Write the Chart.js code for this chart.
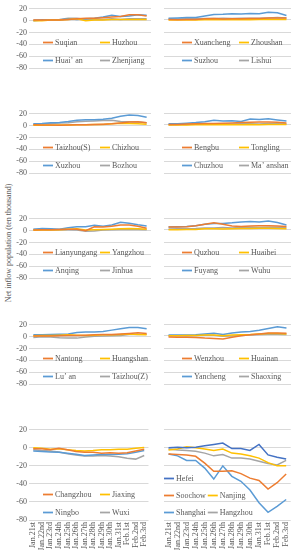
<!DOCTYPE html>
<html>
<head>
<meta charset="utf-8">
<script src="https://cdn.jsdelivr.net/npm/chart.js@4.4.1/dist/chart.umd.min.js"></script>
<style>
  body { margin: 0; width: 298px; height: 550px; position: relative; background: #fff; overflow: hidden; }
  #ytitle {
    position: absolute; left: -116px; top: 238px; width: 250px; height: 10px;
    transform: rotate(-90deg); text-align: center; line-height: 10px;
    font: 8px "Liberation Serif", serif; color: #595959; white-space: nowrap;
  }
</style>
</head>
<body>
<div id="ytitle">Net inflow population (ten thousand)</div>
<script>
// dates on the x axis
const dates = ["Jan.21st", "Jan.22nd", "Jan.23rd", "Jan.24th", "Jan.25th", "Jan.26th", "Jan.27th",
  "Jan.28th", "Jan.29th", "Jan.30th", "Jan.31st", "Feb.1st", "Feb.2nd", "Feb.3rd"];

// net inflow per city (ten thousand)
const suqian = [1, 1, 1, 1, 2, 3, 4, 4, 5, 6, 7, 10, 10, 8];
const huzhou = [0, 0, 1, 1, 2, 3, 0, 1, 1, 2, 2, 2, 2, 2];
const huaian = [0, 1, 1, 1, 3, 2, 3, 4, 6, 9, 7, 8, 10, 9];
const zhenjiang = [1, 1, 1, 2, 4, 4, 2, 2, 2, 3, 2, 3, 3, 3];

const xuancheng = [1, 0.5, 1, 1, 2, 2.5, 1.5, 2, 2, 2.5, 2.5, 3.5, 3.5, 3.5];
const zhoushan = [0, 0, 0, 0, 0.5, 0.5, 0.5, 0.5, 0.5, 0.5, 1, 1, 1, 1];
const suzhou = [3, 3.5, 4, 4, 6.5, 9, 9.5, 10.5, 10, 11, 10.5, 13, 12, 7.5];
const lishui = [1.5, 1.5, 2, 2, 2.5, 2.5, 3, 2.5, 3, 3, 3, 3.5, 4, 3.5];

const taizhouS = [1.5, 1, 1, 0.5, 1, 1.5, 1.5, 2, 2.5, 3, 4.5, 6, 6.5, 5];
const chizhou = [0.5, 0.5, 0.5, 1, 1, 1.5, 1.5, 2, 2, 3, 4, 3.5, 3, 2.5];
const xuzhou = [3, 3.5, 5, 5.5, 7, 9, 10, 10, 11, 12.5, 16, 18, 17, 14];
const bozhou = [2.5, 3, 3.5, 4.5, 5, 6.5, 7.5, 8, 8.5, 9, 7, 6.5, 6, 5];

const bengbu = [1, 1, 1.5, 2, 2.5, 2.5, 3, 3.5, 4, 4.5, 5, 5, 4.5, 3.5];
const tongling = [0, 0, 0, 0.5, 0.5, 1, 0.5, 0.5, 0.5, 1, 0.5, 1, 1, 1];
const chuzhou = [2, 2, 3, 4, 5.5, 8, 6.5, 7, 6, 10, 9, 10.5, 8.5, 6.5];
const maanshan = [0.5, 1, 1, 1.5, 1.5, 2, 1.5, 1.5, 2, 2, 1.5, 2.5, 2, 1.5];

const lianyungang = [1, 1.5, 1.5, 2, 2.5, 2.5, 0, 6.5, 6, 7.5, 9.5, 9.5, 7.5, 4];
const yangzhou = [0.5, 1, 1, 1.5, 2.5, 3, 1, 1.5, 2, 2.5, 3, 3.5, 3, 2.5];
const anqing = [2.5, 3.5, 3, 2.5, 5, 6.5, 6.5, 9, 7.5, 9.5, 14, 12.5, 10, 8];
const jinhua = [2, 2, 1.5, 2, 1.5, 1, -1, -0.5, 1, 1.5, 2, 2.5, 2, 1.5];

const quzhou = [5, 5, 5.5, 7, 9.5, 12, 9.5, 6.5, 6, 6.5, 7, 7, 6.5, 6];
const huaibei = [0.5, 0.5, 1, 1, 2, 2, 1.5, 2, 2.5, 2.5, 3, 3, 2.5, 2];
const fuyang = [5, 5.5, 6, 7, 9.5, 11, 11, 12, 13.5, 14, 13.5, 15, 12.5, 8.5];
const wuhu = [1.5, 2, 2, 2.5, 3.5, 3.5, 4, 3.5, 4.5, 4.5, 4, 4.5, 4.5, 4];

const nantong = [1, 1, 1, 1.5, 2, 2, 2.5, 3, 3.5, 3.5, 4.5, 5.5, 6.5, 5.5];
const huangshan = [1.5, 2, 2, 2.5, 3, 2.5, 2, 2.5, 3, 3, 3.5, 4.5, 3.5, 3];
const luan = [3, 3, 3.5, 4, 4.5, 7, 8, 8, 8.5, 11, 13.5, 15.5, 15.5, 13.5];
const taizhouZ = [-1.5, 0, -0.5, -2, -2.5, -2.5, -0.5, 0.5, 1, 1.5, 2, 3.5, 3.5, 4];

const wenzhou = [-1.5, -2, -2, -2.5, -3.5, -4, -5, -2, 0.5, 2, 3.5, 5, 5, 4.5];
const huainan = [0.5, 0.5, 1, 1, 1.5, 1.5, 0.5, 1.5, 2, 2.5, 3.5, 4, 4, 3.5];
const yancheng = [1.5, 1.5, 1.5, 2, 3.5, 4.5, 2.5, 5, 6.5, 7.5, 9.5, 12.5, 15.5, 13.5];
const shaoxing = [0.5, 0.5, 0, 0.5, 1, 1, -0.5, 0, 1, 1.5, 2.5, 3, 3, 2.5];

const changzhou = [-1, -1, -2, -0.5, -2, -4, -5, -5, -6, -5.5, -6, -5.5, -3.5, -1.5];
const jiaxing = [0, -0.5, -1.5, -1, -2, -3, -3.5, -3, -2, -2, -1.5, -1.5, -0.5, 0.5];
const ningbo = [-3.5, -4, -4.5, -5, -6, -7, -8.5, -8, -7.5, -7.5, -7, -6.5, -5, -3];
const wuxi = [-2, -3, -3.5, -4.5, -6.5, -8, -9, -9, -8.5, -9, -10, -11.5, -12.5, -8.5];

const hefei = [-0.5, 0, -0.5, 0, 1.5, 3, 4.5, -1.5, -1.5, -3.5, 3, -8.5, -11, -13];
const soochow = [-7.5, -8, -8.5, -10, -17.5, -26.5, -26.5, -26, -29, -34, -36.5, -46, -39, -29.5];
const nanjing = [-3, -2, 0.5, -0.5, -2, -3.5, -2, -6.5, -7.5, -9.5, -12, -17, -20.5, -20.5];
const shanghai = [-7.5, -9.5, -14.5, -14.5, -23, -35, -20.5, -32, -37.5, -47, -61, -71.5, -65, -57.5];
const hangzhou = [-2, -3, -3.5, -4.5, -6.5, -9.5, -8, -12, -12, -13, -15.5, -18, -19.5, -14.5];

const orange = "#ED7D31", yellow = "#FFC000", blue = "#5B9BD5", gray = "#A5A5A5", navy = "#4472C4";
const four = [orange, yellow, blue, gray];

const panels = [
  { row: 0, col: 0, names: ["Suqian", "Huzhou", "Huai\u2019 an", "Zhenjiang"], series: [suqian, huzhou, huaian, zhenjiang] },
  { row: 0, col: 1, names: ["Xuancheng", "Zhoushan", "Suzhou", "Lishui"], series: [xuancheng, zhoushan, suzhou, lishui] },
  { row: 1, col: 0, names: ["Taizhou(S)", "Chizhou", "Xuzhou", "Bozhou"], series: [taizhouS, chizhou, xuzhou, bozhou] },
  { row: 1, col: 1, names: ["Bengbu", "Tongling", "Chuzhou", "Ma\u2019 anshan"], series: [bengbu, tongling, chuzhou, maanshan] },
  { row: 2, col: 0, names: ["Lianyungang", "Yangzhou", "Anqing", "Jinhua"], series: [lianyungang, yangzhou, anqing, jinhua] },
  { row: 2, col: 1, names: ["Quzhou", "Huaibei", "Fuyang", "Wuhu"], series: [quzhou, huaibei, fuyang, wuhu] },
  { row: 3, col: 0, names: ["Nantong", "Huangshan", "Lu\u2019 an", "Taizhou(Z)"], series: [nantong, huangshan, luan, taizhouZ] },
  { row: 3, col: 1, names: ["Wenzhou", "Huainan", "Yancheng", "Shaoxing"], series: [wenzhou, huainan, yancheng, shaoxing] },
  { row: 4, col: 0, names: ["Changzhou", "Jiaxing", "Ningbo", "Wuxi"], series: [changzhou, jiaxing, ningbo, wuxi] },
  { row: 4, col: 1, names: ["Hefei", "Soochow", "Nanjing", "Shanghai", "Hangzhou"], series: [hefei, soochow, nanjing, shanghai, hangzhou],
    colors: [navy, orange, yellow, blue, gray], legendRows: [[0], [1, 2], [3, 4]], legendX: 0, colW: 0, rowGap: 17 }
];

const plotTop = [8, 113, 218, 324, 429];
const font = { family: "'Liberation Serif', serif", size: 8 };
const textColor = "#595959";

// legend drawn inside the plot, like the Excel original
const panelLegend = {
  id: "panelLegend",
  afterDraw(chart, args, opts) {
    const { ctx, chartArea } = chart;
    ctx.save();
    ctx.font = "8px 'Liberation Serif', serif";
    ctx.textBaseline = "middle";
    opts.rows.forEach((items, r) => {
      const y = Math.round(chartArea.bottom - 8 - (opts.rows.length - 1 - r) * opts.rowGap) + 0.5;
      let x = chartArea.left + opts.x;
      items.forEach(i => {
        const ds = chart.data.datasets[i];
        ctx.strokeStyle = ds.borderColor;
        ctx.lineWidth = 1.75;
        ctx.beginPath();
        ctx.moveTo(x, y);
        ctx.lineTo(x + 10, y);
        ctx.stroke();
        ctx.fillStyle = textColor;
        ctx.fillText(ds.label, x + 12, y);
        const end = x + 12 + ctx.measureText(ds.label).width;
        x = Math.max(x + opts.colW, end + 2);
      });
    });
    ctx.restore();
  }
};

panels.forEach(p => {
  const left = p.col === 0;
  const last = p.row === 4;
  const cw = left ? 156 : 142;
  const top = plotTop[p.row] - 6;
  const ch = last ? 550 - top : 102;
  const canvas = document.createElement("canvas");
  canvas.width = cw;
  canvas.height = ch;
  canvas.style.cssText = "position:absolute;left:" + (left ? 0 : 156) + "px;top:" + top + "px;width:" + cw + "px;height:" + ch + "px";
  document.body.appendChild(canvas);

  const colors = p.colors || four;
  new Chart(canvas, {
    type: "line",
    data: {
      labels: dates,
      datasets: p.series.map((d, i) => ({
        label: p.names[i],
        data: d,
        borderColor: colors[i],
        backgroundColor: colors[i],
        borderWidth: 1.5,
        pointRadius: 0,
        tension: 0,
        fill: false
      }))
    },
    options: {
      responsive: false,
      animation: false,
      events: [],
      layout: { padding: { top: 6, right: left ? 5 : 7, bottom: last ? 0 : 6, left: 0 } },
      plugins: {
        legend: { display: false },
        tooltip: { enabled: false },
        panelLegend: {
          rows: p.legendRows || [[0, 1], [2, 3]],
          x: p.legendX !== undefined ? p.legendX : (left ? 14 : 18),
          colW: p.colW !== undefined ? p.colW : 57,
          rowGap: p.rowGap || 18
        }
      },
      scales: {
        x: {
          display: last,
          offset: true,
          grid: { display: false, drawTicks: false },
          border: { display: false },
          ticks: { autoSkip: false, minRotation: 90, maxRotation: 90, padding: 2, font: font, color: textColor },
          afterFit: s => { s.height = 30; }
        },
        y: {
          min: -80,
          max: 20,
          grid: { color: "#d9d9d9", drawTicks: false },
          border: { display: false },
          ticks: { stepSize: 20, autoSkip: false, display: left, padding: 2, font: font, color: textColor },
          afterFit: s => { s.width = left ? 29 : 8; }
        }
      }
    },
    plugins: [panelLegend]
  });
});
</script>
</body>
</html>
